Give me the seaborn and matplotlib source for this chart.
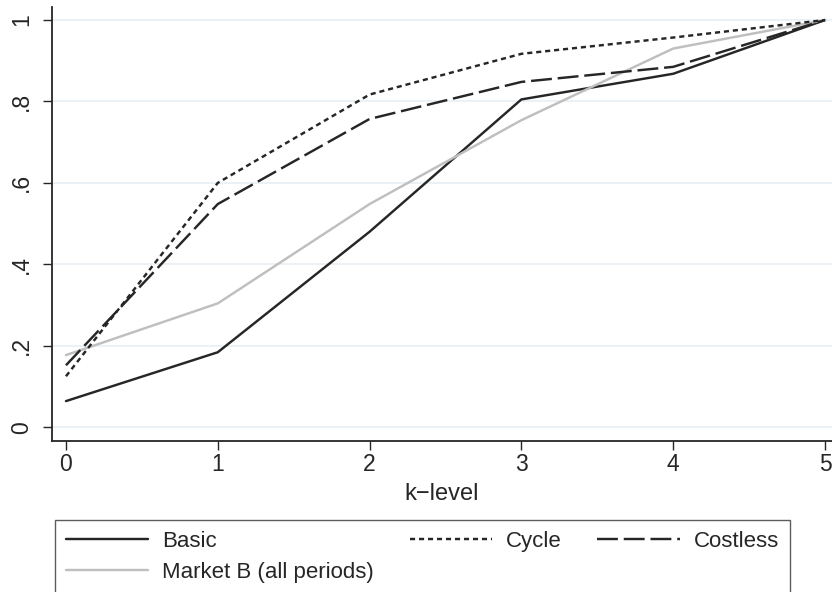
import matplotlib
matplotlib.use("Agg")
import matplotlib.pyplot as plt
import seaborn as sns
import pandas as pd

# cumulative share of subjects at or below each k-level
k_levels = [0, 1, 2, 3, 4, 5]
basic = [0.064, 0.184, 0.480, 0.805, 0.868, 1.0]
cycle = [0.125, 0.600, 0.817, 0.917, 0.957, 1.0]
costless = [0.152, 0.548, 0.757, 0.848, 0.885, 1.0]
market_b = [0.177, 0.304, 0.548, 0.754, 0.930, 1.0]

y_ticks = [0, 0.2, 0.4, 0.6, 0.8, 1.0]
y_tick_labels = ["0", ".2", ".4", ".6", ".8", "1"]

sns.set_theme(style="white")
plt.rcParams["font.family"] = ["Liberation Sans", "DejaVu Sans"]

fig = plt.figure(figsize=(8.32, 5.92), dpi=100)
ax = fig.add_axes([52 / 832, 151 / 592, 780 / 832, 434 / 592])

series = [
    ("Basic", basic, "#262626", None),
    ("Market B (all periods)", market_b, "#bfbfbf", None),
    ("Cycle", cycle, "#262626", (2.1, 1.6)),
    ("Costless", costless, "#262626", (8.6, 2.4)),
]

handles = []
for name, vals, color, dash in series:
    df = pd.DataFrame({"k": k_levels, "share": vals})
    sns.lineplot(data=df, x="k", y="share", ax=ax, color=color, lw=1.75,
                 label=name, legend=False)
    line = ax.lines[-1]
    if dash is not None:
        line.set_dashes(dash)
    handles.append(line)

ax.set_xlim(-0.092, 5.046)
ax.set_ylim(-0.034, 1.032)
ax.set_xticks(k_levels)
ax.set_yticks(y_ticks)
ax.set_yticklabels(y_tick_labels, rotation=90, va="center")
ax.set_xlabel("k\u2212level", fontsize=17, labelpad=5)
ax.set_ylabel("")

ax.grid(axis="y", color="#e8eff2", lw=1.2)
ax.set_axisbelow(True)
for side in ["top", "right"]:
    ax.spines[side].set_visible(False)
for side in ["left", "bottom"]:
    ax.spines[side].set_color("#262626")
    ax.spines[side].set_linewidth(1.3)
ax.tick_params(axis="both", which="major", direction="out", length=6.5,
               width=1.0, color="#262626", labelsize=16.5,
               bottom=True, left=True)
ax.tick_params(axis="x", pad=2)
ax.tick_params(axis="y", pad=7)

leg = fig.legend(handles=handles, labels=[s[0] for s in series],
                 loc="upper left",
                 bbox_to_anchor=(55 / 832, 0, 735 / 832, 1 - 520 / 592),
                 mode="expand", ncol=3, fontsize=16, frameon=True,
                 fancybox=False, edgecolor="#333333", handlelength=3.7,
                 handletextpad=0.65, columnspacing=1.5, labelspacing=0.45,
                 borderpad=0.48, borderaxespad=0)
leg.get_frame().set_linewidth(1.0)

fig.savefig("out.png", dpi=100, facecolor="white")
